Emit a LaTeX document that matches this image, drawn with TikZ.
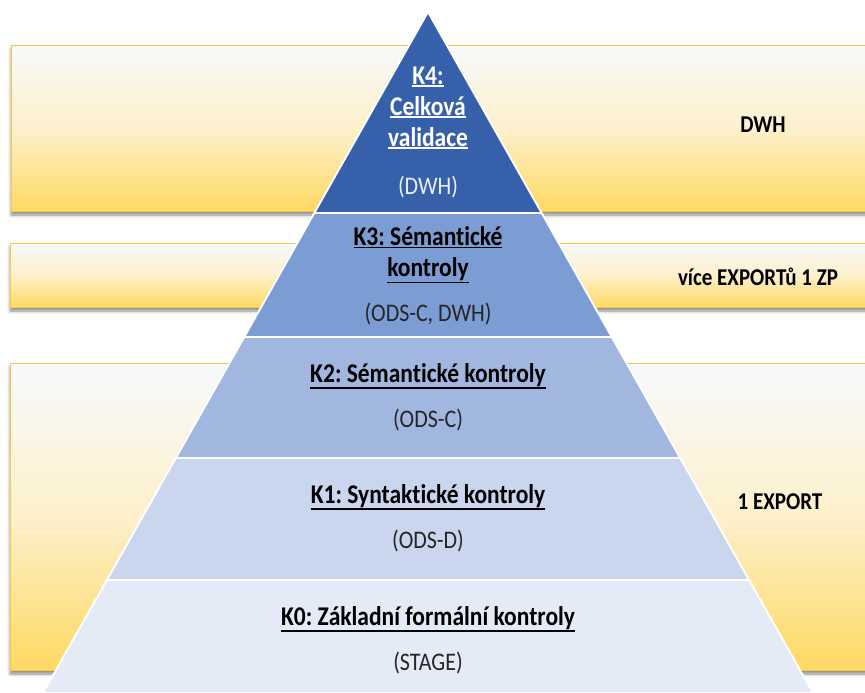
\documentclass[tikz,border=0pt]{standalone}
\usepackage{fontspec}
\setmainfont{Carlito}[Ligatures=NoCommon]
\usetikzlibrary{calc,shadows.blur}

\definecolor{kfour}{HTML}{3660A9}
\definecolor{kthree}{HTML}{7C9CD4}
\definecolor{ktwo}{HTML}{A1B7E0}
\definecolor{kone}{HTML}{C9D6EE}
\definecolor{kzero}{HTML}{E4EBF7}
\definecolor{zonetop}{HTML}{F7F9FB}
\definecolor{zonemid}{HTML}{FDF0CC}
\definecolor{zonebot}{HTML}{FFD963}
\definecolor{zoneline}{HTML}{F8C93C}

% thicker underline, as in the slide
\newcommand{\kul}[1]{\setbox0\hbox{#1}\leavevmode\rlap{\copy0}%
  \raisebox{\dimexpr-\dp0-2.2pt\relax}{\rule{\wd0}{1.5pt}}}

\tikzset{
  zonebox/.style={draw=zoneline, line width=0.9pt, top color=zonetop, bottom color=zonebot,
    middle color=zonemid, blur shadow={shadow xshift=0pt, shadow yshift=-4pt,
    shadow blur radius=3pt, shadow opacity=45}},
  ktitle/.style={font=\fontsize{23.5}{27}\selectfont\bfseries, align=center, yscale=1.15, text=black},
  ksub/.style={font=\fontsize{22}{26}\selectfont, yscale=1.15, text=black!85},
  zonelabel/.style={font=\fontsize{21}{25}\selectfont\bfseries, yscale=1.15, text=black}
}

\begin{document}
\frenchspacing
\begin{tikzpicture}[x=1pt, y=-1pt]
        \useasboundingbox (0,0) rectangle (865,693);
        \clip (0,0) rectangle (865,693);
        % yellow zones behind the pyramid
        \draw[zonebox] (11,45) rectangle (880,211);
        \draw[zonebox] (10,243) rectangle (880,307);
        \draw[zonebox] (10,363) rectangle (880,670);
        % pyramid levels
        \coordinate (apex) at (428,12);
        \coordinate (baseL) at (43,693);
        \coordinate (baseR) at (813,693);
        \foreach \ta/\tb/\col in {0/0.2952/kfour, 0.2952/0.4772/kthree, 0.4772/0.6549/ktwo,
                                  0.6549/0.8341/kone, 0.8341/1/kzero} {
          \filldraw[fill=\col, draw=white, line width=1.8pt]
            ($(apex)!\ta!(baseL)$) -- ($(apex)!\tb!(baseL)$) --
            ($(apex)!\tb!(baseR)$) -- ($(apex)!\ta!(baseR)$) -- cycle;
        }
        % level texts
        \node[ktitle, text=white] (k4title) at (428,108) {\kul{K4:}\\\kul{Celková}\\\kul{validace}};
        \node[ksub, text=white!90!kfour] (k4sub) at (428,187) {(DWH)};
        \node[ktitle] (k3title) at (428,255) {\kul{K3: Sémantické}\\\kul{kontroly}};
        \node[ksub] (k3sub) at (428,314) {(ODS-C, DWH)};
        \node[ktitle] (k2title) at (428,376) {\kul{K2: Sémantické kontroly}};
        \node[ksub] (k2sub) at (428,420) {(ODS-C)};
        \node[ktitle] (k1title) at (428,497) {\kul{K1: Syntaktické kontroly}};
        \node[ksub] (k1sub) at (428,541) {(ODS-D)};
        \node[ktitle] (k0title) at (428,619) {\kul{K0: Základní formální kontroly}};
        \node[ksub] (k0sub) at (428,663) {(STAGE)};
        % zone labels
        \node[zonelabel] (lbldwh) at (763,125) {DWH};
        \node[zonelabel] (lblvice) at (758,277) {více EXPORTů 1 ZP};
        \node[zonelabel] (lblexport) at (780,502) {1 EXPORT};
      \end{tikzpicture}
\end{document}
